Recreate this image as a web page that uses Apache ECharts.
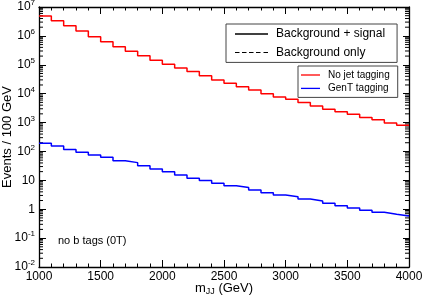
<!DOCTYPE html>
<html>
<head>
<meta charset="utf-8">
<script src="https://cdn.jsdelivr.net/npm/echarts@6/dist/echarts.min.js"></script>
<style>
html,body{margin:0;padding:0;background:#fff;}
#c{width:424px;height:300px;}
</style>
</head>
<body>
<div id="c"></div>
<script>
// Bin lower edges (GeV), 100 GeV bins
var binStart = [1000,1100,1200,1300,1400,1500,1600,1700,1800,1900,
                2000,2100,2200,2300,2400,2500,2600,2700,2800,2900,
                3000,3100,3200,3300,3400,3500,3600,3700,3800,3900];
var binEnd = 4000;
// Events / 100 GeV, no jet tagging (red)
var noJetTagging = [4.9e6,3.36e6,2.25e6,1.48e6,9.4e5,6.3e5,4.2e5,2.93e5,2.06e5,1.43e5,
                    1.04e5,7.7e4,5.8e4,4.2e4,3.0e4,2.3e4,1.74e4,1.35e4,1.0e4,7.7e3,
                    6.4e3,4.9e3,3.75e3,2.9e3,2.38e3,1.93e3,1.51e3,1.26e3,9.7e2,8.0e2];
// Events / 100 GeV, GenT tagging (blue)
var genTTagging = [191,155,117,93.5,75,63,48,41,32,24.7,
                   20,15.3,11.8,9.8,7.9,6.5,5.6,4.6,3.7,3.1,
                   2.7,2.26,1.93,1.6,1.32,1.1,0.92,0.78,0.67,0.58];
var yDecades = [1e-2,1e-1,1,10,1e2,1e3,1e4,1e5,1e6,1e7];
var minorMult = [2,3,4,5,6,7,8,9];

function histData(vals){
  var d = binStart.map(function(x,i){return [x, vals[i]];});
  d.push([binEnd, vals[vals.length-1]]);
  return d;
}
var minorTickData = [];
for (var i=0;i<yDecades.length-1;i++){
  for (var j=0;j<minorMult.length;j++){
    minorTickData.push([binStart[0], yDecades[i]*minorMult[j]]);
  }
}

var FONT = '"Liberation Sans", Arial, sans-serif';
var DASH_ICON = 'path://M0,0H4.5V1H0Z M7,0H11.5V1H7Z M14,0H18.5V1H14Z M21,0H25.5V1H21Z M28.5,0H33V1H28.5Z';
var chart = echarts.init(document.getElementById('c'));
chart.setOption({
  animation:false,
  backgroundColor:'#fff',
  grid:{left:39,right:15,top:7,bottom:33,containLabel:false,outerBoundsMode:'none'},
  xAxis:[{
    type:'value', min:1000, max:4000, interval:500, position:'bottom',
    axisLine:{show:true,lineStyle:{color:'#000',width:1.3}},
    axisTick:{show:true,inside:true,length:7,lineStyle:{color:'#000',width:1}},
    minorTick:{show:true,splitNumber:5,length:3.5,lineStyle:{color:'#000',width:1}},
    splitLine:{show:false},
    axisLabel:{show:true,margin:4,color:'#000',fontSize:12,fontFamily:FONT,
      formatter:function(v){return String(v);}},
    name:'m{sub|JJ} (GeV)', nameLocation:'middle', nameGap:14, nameMoveOverlap:false,
    nameTextStyle:{color:'#000',fontSize:13,fontFamily:FONT,
      rich:{sub:{fontSize:9,fontFamily:FONT,color:'#000',padding:[6,0,0,0]}}}
  },{
    type:'value', min:1000, max:4000, interval:500, position:'top',
    axisLine:{show:true,lineStyle:{color:'#000',width:1.3}},
    axisTick:{show:true,inside:true,length:7,lineStyle:{color:'#000',width:1}},
    minorTick:{show:true,splitNumber:5,length:3.5,lineStyle:{color:'#000',width:1}},
    splitLine:{show:false}, axisLabel:{show:false}
  }],
  yAxis:[{
    type:'log', logBase:10, min:0.01, max:1e7, interval:1, position:'left',
    axisLine:{show:true,lineStyle:{color:'#000',width:1.3}},
    axisTick:{show:true,inside:true,length:7,lineStyle:{color:'#000',width:1}},
    splitLine:{show:false},
    axisLabel:{show:true,margin:4,color:'#000',fontSize:12,fontFamily:FONT,
      formatter:function(v){
        var e = Math.round(Math.log10(v));
        if (e===0) return '{b|1}';
        if (e===1) return '{b|10}';
        return '{b|10}{sup|'+e+'}';
      },
      rich:{
        b:{fontSize:12,fontFamily:FONT,color:'#000',lineHeight:12,verticalAlign:'bottom'},
        sup:{fontSize:8,fontFamily:FONT,color:'#000',lineHeight:8,verticalAlign:'bottom',padding:[0,0,6,0]}
      }},
    name:'Events / 100 GeV', nameLocation:'middle', nameGap:25, nameRotate:90, nameMoveOverlap:false,
    nameTextStyle:{color:'#000',fontSize:13,fontFamily:FONT}
  },{
    type:'log', logBase:10, min:0.01, max:1e7, interval:1, position:'right',
    axisLine:{show:true,lineStyle:{color:'#000',width:1.3}},
    axisTick:{show:true,inside:true,length:6,lineStyle:{color:'#000',width:1}},
    splitLine:{show:false}, axisLabel:{show:false}
  }],
  legend:[{
    orient:'vertical', left:226, top:24,
    padding:[3,12,3,9], itemGap:4.4, itemWidth:33, itemHeight:1.4,
    borderColor:'#444', borderWidth:1, backgroundColor:'#fff',
    textStyle:{fontSize:12,fontFamily:FONT,color:'#000',lineHeight:14,padding:[0,0,0,3]},
    data:[{name:'Background + signal',icon:'rect'},{name:'Background only',icon:DASH_ICON}],
    selectedMode:false
  },{
    orient:'vertical', left:298, top:66,
    padding:[3,8,3,3], itemGap:1.4, itemWidth:19, itemHeight:1.3,
    borderColor:'#444', borderWidth:1, backgroundColor:'#fff',
    textStyle:{fontSize:10,fontFamily:FONT,color:'#000',lineHeight:12,padding:[0,0,0,3]},
    data:[{name:'No jet tagging',icon:'rect'},{name:'GenT tagging',icon:'rect'}],
    selectedMode:false
  }],
  graphic:[{
    type:'text', left:58, top:235,
    style:{text:'no b tags (0T)', font:'11px "Liberation Sans", Arial, sans-serif', fill:'#000'}
  }],
  series:[{
    name:'Background + signal', type:'line', data:[], symbol:'none',
    lineStyle:{color:'#000',width:1.2,type:'solid'}, itemStyle:{color:'#000'}
  },{
    name:'Background only', type:'line', data:[], symbol:'none',
    lineStyle:{color:'#000',width:1.2,type:'dashed'}, itemStyle:{color:'#000'}
  },{
    name:'No jet tagging', type:'line', step:'end', symbol:'none',
    data:histData(noJetTagging),
    lineStyle:{color:'#ff0000',width:1.5}, itemStyle:{color:'#ff0000'}
  },{
    name:'GenT tagging', type:'line', step:'end', symbol:'none',
    data:histData(genTTagging),
    lineStyle:{color:'#0000ff',width:1.5}, itemStyle:{color:'#0000ff'}
  },{
    type:'custom', silent:true, data:minorTickData, clip:false,
    renderItem:function(params, api){
      var v = api.value(1);
      var pl = api.coord([1000, v]);
      var pr = api.coord([4000, v]);
      return {type:'group', children:[
        {type:'line', shape:{x1:pl[0], y1:pl[1], x2:pl[0]+4, y2:pl[1]}, style:{stroke:'#000', lineWidth:1}},
        {type:'line', shape:{x1:pr[0]-4, y1:pr[1], x2:pr[0], y2:pr[1]}, style:{stroke:'#000', lineWidth:1}}
      ]};
    }
  }]
});
</script>
</body>
</html>
